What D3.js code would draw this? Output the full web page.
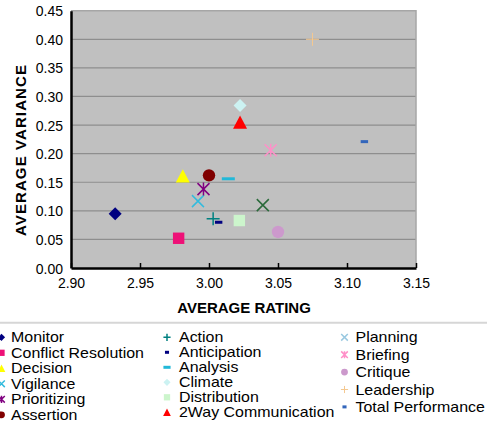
<!DOCTYPE html>
<html><head><meta charset="utf-8">
<script src="https://cdn.jsdelivr.net/npm/d3@7/dist/d3.min.js"></script>
<style>body{margin:0;background:#fff;}svg{display:block;font-family:Arial,"Liberation Sans",sans-serif;}</style>
</head><body>
<svg id="c" width="487" height="423"></svg>
<script>
// ---- data ----
const categories = ["Monitor","Conflict Resolution","Decision","Vigilance","Prioritizing","Assertion",
  "Action","Anticipation","Analysis","Climate","Distribution","2Way Communication",
  "Planning","Briefing","Critique","Leadership","Total Performance"];
const avgRating   = [2.932,2.978,2.981,2.992,2.996,3.000,3.003,3.007,3.014,3.0225,3.022,3.0225,3.039,3.0447,3.050,3.075,3.1126];
const avgVariance = [0.095,0.052,0.161,0.117,0.138,0.162,0.086,0.080,0.156,0.284,0.083,0.255,0.110,0.206,0.063,0.400,0.221];
const shapes = ["diamond","square","triangle","x","asterisk","circle","plus","dashS","dashL","diamond","square","triangle","x","asterisk","circle","plusThin","dashS"];
const colors = ["#000080","#ee1177","#ffff00","#33bbdd","#800080","#800000","#008080","#000080","#22b8d8","#ccf2f2","#ccf5cc","#ff0000","#2a6a3a","#ff8fc8","#cc99cc","#f4c890","#3366bb"];
const legendColors = ["#000080","#ee1177","#ffff00","#33bbdd","#800080","#800000","#008080","#000080","#22b8d8","#ccf2f2","#ccf5cc","#ff0000","#99c8e0","#ff8fc8","#cc99cc","#f4c890","#3366bb"];
const xTicks = [2.90,2.95,3.00,3.05,3.10,3.15];
const yTicks = [0,0.05,0.10,0.15,0.20,0.25,0.30,0.35,0.40,0.45];

// ---- layout ----
const svg = d3.select("#c");
const L = 71, R = 416, T = 10.7, B = 268;
const x = d3.scaleLinear().domain([2.90,3.15]).range([L,R]);
const y = d3.scaleLinear().domain([0,0.45]).range([B,T]);

svg.append("rect").attr("x",L).attr("y",T).attr("width",R-L).attr("height",B-T).attr("fill","#c0c0c0");
// gridlines
svg.append("g").selectAll("line").data(yTicks.slice(1,-1)).join("line")
  .attr("x1",L).attr("x2",R).attr("y1",d=>y(d)).attr("y2",d=>y(d))
  .attr("stroke","#8e8e8e").attr("stroke-width",1.2);
// top/right border
svg.append("path").attr("d",`M${L},${T}H${R}V${B}`).attr("fill","none").attr("stroke","#a6a6a6").attr("stroke-width",1.5);

// axes
const xAxis = svg.append("g").attr("transform",`translate(0,${B})`)
  .call(d3.axisBottom(x).tickValues(xTicks).tickFormat(d3.format(".2f")).tickSizeInner(-5).tickSizeOuter(0).tickPadding(13));
const yAxis = svg.append("g").attr("transform",`translate(${L},0)`)
  .call(d3.axisLeft(y).tickValues(yTicks).tickFormat(d3.format(".2f")).tickSizeInner(0).tickSizeOuter(0).tickPadding(8));
[xAxis,yAxis].forEach(a=>{
  a.select(".domain").attr("stroke","#000").attr("stroke-width",2.5);
  a.selectAll(".tick line").attr("stroke","#000").attr("stroke-width",1.5);
  a.selectAll("text").attr("font-size",14).attr("fill","#000").attr("font-family","Arial, 'Liberation Sans', sans-serif");
});
xAxis.selectAll(".tick text").attr("dy","0.5em");
yAxis.selectAll(".tick text").attr("dy","0.36em");

// axis titles
svg.append("text").attr("x",244).attr("y",313).attr("text-anchor","middle")
  .attr("font-size",15).attr("font-weight","bold").text("AVERAGE RATING");
svg.append("text").attr("transform","translate(26,150) rotate(-90)").attr("text-anchor","middle")
  .attr("font-size",15).attr("font-weight","bold").attr("letter-spacing",1.1).text("AVERAGE VARIANCE");

// marker drawing
function drawMarker(g, shape, color, k){
  const s = k;
  switch(shape){
    case "diamond": g.append("path").attr("d",`M0,${-6.5*s}L${6.5*s},0L0,${6.5*s}L${-6.5*s},0Z`).attr("fill",color); break;
    case "square": g.append("rect").attr("x",-5.7*s).attr("y",-5.7*s).attr("width",11.4*s).attr("height",11.4*s).attr("fill",color); break;
    case "triangle": g.append("path").attr("d",`M0,${-6.8*s}L${7*s},${6.5*s}L${-7*s},${6.5*s}Z`).attr("fill",color); break;
    case "circle": g.append("circle").attr("r",6.2*s).attr("fill",color); break;
    case "x": g.append("path").attr("d",`M${-6*s},${-6*s}L${6*s},${6*s}M${6*s},${-6*s}L${-6*s},${6*s}`).attr("stroke",color).attr("stroke-width",1.5).attr("fill","none"); break;
    case "asterisk": g.append("path").attr("d",`M${-6*s},${-6*s}L${6*s},${6*s}M${6*s},${-6*s}L${-6*s},${6*s}M0,${-6.5*s}V${6.5*s}`).attr("stroke",color).attr("stroke-width",1.5).attr("fill","none"); break;
    case "plus": g.append("path").attr("d",`M${-6.5*s},0H${6.5*s}M0,${-6.5*s}V${6.5*s}`).attr("stroke",color).attr("stroke-width",1.5).attr("fill","none"); break;
    case "plusThin": g.append("path").attr("d",`M${-6.5*s},0H${6.5*s}M0,${-6.5*s}V${6.5*s}`).attr("stroke",color).attr("stroke-width",1).attr("fill","none"); break;
    case "dashS": g.append("rect").attr("x",-3.7*s).attr("y",-1.5).attr("width",7.4*s).attr("height",3).attr("fill",color); break;
    case "dashL": g.append("rect").attr("x",-6.5*s).attr("y",-1.5).attr("width",13*s).attr("height",3).attr("fill",color); break;
  }
}

// points
const pts = svg.append("g");
categories.forEach((c,i)=>{
  const g = pts.append("g").attr("transform",`translate(${x(avgRating[i])},${y(avgVariance[i])})`);
  drawMarker(g, shapes[i], colors[i], 1);
});

// separator
svg.append("line").attr("x1",0).attr("x2",487).attr("y1",322.8).attr("y2",322.8).attr("stroke","#d6d6d6").attr("stroke-width",2);

// legend
const cols = [{start:0,n:6,mx:1.5,tx:11,step:15.5},{start:6,n:6,mx:167,tx:179,step:15},{start:12,n:5,mx:344.5,tx:355.5,step:17.4}];
const leg = svg.append("g");
cols.forEach(col=>{
  for(let j=0;j<col.n;j++){
    const i = col.start+j;
    const by = 342.3 + j*col.step;
    const g = leg.append("g").attr("transform",`translate(${col.mx},${by-5})`);
    drawMarker(g, shapes[i], legendColors[i], 0.55);
    leg.append("text").attr("transform",`translate(${col.tx},${by}) scale(1.14,1)`)
      .attr("font-size",14).attr("fill","#000").text(categories[i]);
  }
});
</script>
</body></html>
